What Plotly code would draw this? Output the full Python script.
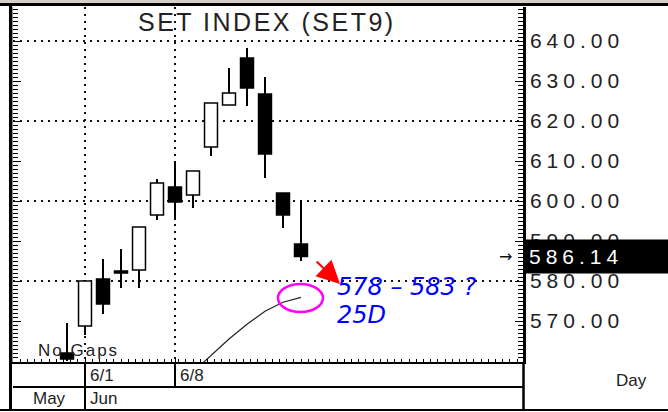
import plotly.graph_objects as go

# ---------------- data ----------------
DATES = ["5/29", "6/1", "6/2", "6/3", "6/4", "6/5", "6/8", "6/9", "6/10",
         "6/11", "6/12", "6/15", "6/16", "6/17"]
OPEN = [562.0, 568.75, 580.5, 582.5, 582.75, 596.5, 603.5, 601.5, 613.5,
        624.0, 635.75, 626.75, 602.0, 589.25]
HIGH = [569.5, 580.0, 585.5, 588.0, 593.5, 605.5, 610.0, 607.5, 624.5,
        633.25, 638.25, 631.0, 602.0, 600.25]
LOW = [560.0, 566.5, 571.75, 578.25, 578.25, 595.25, 595.25, 598.25, 611.25,
       624.0, 623.75, 605.75, 593.25, 585.0]
CLOSE = [560.5, 580.0, 574.25, 582.0, 593.5, 604.5, 599.75, 607.5, 624.5,
         627.0, 628.25, 611.75, 596.5, 586.14]
MA25 = [None, None, None, None, None, None, None, 557.25, 561.4, 565.5,
        569.2, 572.45, 574.7, 575.9]
TICK_VALS = [570, 580, 590, 600, 610, 620, 630, 640]
DATE_MARKS = ["6/1", "6/8"]
MONTHS = ["May", "Jun"]

X = list(range(len(DATES)))
X_RANGE = [-3, 25.333]
Y_RANGE = [559.75, 648.5]

FONT = "Liberation Sans, Arial, sans-serif"
TXT = "#222222"


def spaced(t, ls):
    return '<span style="letter-spacing:%spx">%s</span>' % (ls, t)


def py(p):  # pixel row -> paper y
    return (362 - p) / 355.0


def px(p):  # pixel column -> paper x
    return (p - 13) / 510.0


fig = go.Figure()

# bodies
body_base = [min(o, c) for o, c in zip(OPEN, CLOSE)]
body_h = [abs(c - o) for o, c in zip(OPEN, CLOSE)]
body_col = ["white" if c > o else "black" for o, c in zip(OPEN, CLOSE)]
fig.add_trace(go.Bar(x=X, y=body_h, base=body_base, width=0.72,
                     marker=dict(color=body_col, line=dict(color="black", width=1.5)),
                     hoverinfo="skip", showlegend=False))

# wicks (split so they don't cross the bodies)
wx, wy = [], []
for i, o, h, l, c in zip(X, OPEN, HIGH, LOW, CLOSE):
    top, bot = max(o, c), min(o, c)
    if h > top:
        wx += [i, i, None]
        wy += [h, top, None]
    if l < bot:
        wx += [i, i, None]
        wy += [bot, l, None]
fig.add_trace(go.Scatter(x=wx, y=wy, mode="lines",
                         line=dict(color="black", width=2),
                         hoverinfo="skip", showlegend=False))

# 25-day average
fig.add_trace(go.Scatter(x=X, y=MA25, mode="lines",
                         line=dict(color="#222222", width=1.2),
                         hoverinfo="skip", showlegend=False))

# dummy traces for overlay axes
fig.add_trace(go.Scatter(x=[None], y=[None], yaxis="y2", showlegend=False, hoverinfo="skip"))
fig.add_trace(go.Scatter(x=[None], y=[None], yaxis="y3", showlegend=False, hoverinfo="skip"))

DOT = "2px,5px"

fig.update_layout(
    width=668, height=412, autosize=False,
    margin=dict(l=13, r=145, t=7, b=50, pad=0),
    paper_bgcolor="white", plot_bgcolor="white",
    barmode="overlay", showlegend=False,
    xaxis=dict(range=X_RANGE, tickmode="array", tickvals=[1, 6], showticklabels=False,
               showgrid=True, gridcolor="#111", griddash=DOT, gridwidth=1.5,
               zeroline=False, showline=True, linecolor="black", linewidth=2,
               ticks="inside", ticklen=3, tickcolor="black",
               minor=dict(tickmode="linear", tick0=-3, dtick=0.4, ticks="inside",
                          ticklen=3, tickcolor="black", showgrid=False),
               fixedrange=True),
    yaxis=dict(range=Y_RANGE, side="right", tickmode="array", tickvals=TICK_VALS,
               ticktext=[spaced("%.2f" % v, 5) for v in TICK_VALS],
               tickfont=dict(family=FONT, size=21, color=TXT),
               ticks="inside", ticklen=8, tickcolor="black", tickwidth=1,
               minor=dict(tickmode="linear", tick0=0, dtick=1, ticks="inside",
                          ticklen=5, tickcolor="black", showgrid=False),
               showgrid=False, zeroline=False, showline=True, linecolor="black",
               linewidth=2.5, ticklabelstandoff=0, fixedrange=True),
    yaxis2=dict(range=Y_RANGE, overlaying="y", side="left", tickmode="linear",
                tick0=0, dtick=10, showticklabels=False, ticks="inside", ticklen=8,
                tickcolor="black",
                minor=dict(tickmode="linear", tick0=0, dtick=1, ticks="inside",
                           ticklen=5, tickcolor="black", showgrid=False),
                showgrid=False, zeroline=False, showline=True, linecolor="#888",
                linewidth=1.5, fixedrange=True),
    yaxis3=dict(range=Y_RANGE, overlaying="y", side="left", tickmode="linear",
                tick0=0, dtick=20, showticklabels=False, ticks="",
                showgrid=True, gridcolor="#111", griddash=DOT, gridwidth=1.5,
                zeroline=False, showline=False, fixedrange=True),
)

shapes = [
    dict(type="rect", xref="paper", yref="paper", x0=px(0), x1=px(668),
         y0=py(3), y1=py(0), fillcolor="#d4d0c8", line=dict(width=0)),
    dict(type="line", xref="paper", yref="paper", x0=px(0), x1=px(668),
         y0=py(4.5), y1=py(4.5), line=dict(color="black", width=3)),
    dict(type="line", xref="paper", yref="paper", x0=px(10.5), x1=px(10.5),
         y0=py(410), y1=py(4), line=dict(color="black", width=3)),
    dict(type="line", xref="paper", yref="paper", x0=px(0), x1=px(668),
         y0=py(410), y1=py(410), line=dict(color="black", width=2)),
    dict(type="line", xref="paper", yref="paper", x0=0, x1=1,
         y0=py(387), y1=py(387), line=dict(color="black", width=2)),
    dict(type="line", xref="x", yref="paper", x0=1, x1=1,
         y0=py(410), y1=0, line=dict(color="black", width=2)),
    dict(type="line", xref="x", yref="paper", x0=6, x1=6,
         y0=py(387), y1=0, line=dict(color="black", width=2)),
    dict(type="line", xref="paper", yref="paper", x0=px(523.5), x1=px(523.5),
         y0=py(410), y1=0, line=dict(color="black", width=2.5)),
    dict(type="circle", xref="x", yref="y", x0=11.72, x1=14.22, y0=572.25, y1=579.25,
         line=dict(color="#ff00ff", width=2.5)),
]
fig.update_layout(shapes=shapes)

ann = [
    dict(text=spaced("SET INDEX (SET9)", 2.5), xref="paper", yref="paper",
         x=px(267), y=py(22), xanchor="center", yanchor="middle", showarrow=False,
         font=dict(family=FONT, size=25, color=TXT)),
    dict(text=spaced("No Gaps", 2), xref="paper", yref="paper",
         x=px(36), y=py(350), xanchor="left", yanchor="middle", showarrow=False,
         font=dict(family=FONT, size=17, color=TXT)),
    dict(text=DATE_MARKS[0], xref="x", yref="paper", x=1, xshift=3, y=py(375),
         xanchor="left", yanchor="middle", showarrow=False,
         font=dict(family=FONT, size=17, color=TXT)),
    dict(text=DATE_MARKS[1], xref="x", yref="paper", x=6, xshift=3, y=py(375),
         xanchor="left", yanchor="middle", showarrow=False,
         font=dict(family=FONT, size=17, color=TXT)),
    dict(text=MONTHS[0], xref="x", yref="paper", x=-1, y=py(398),
         xanchor="center", yanchor="middle", showarrow=False,
         font=dict(family=FONT, size=17, color=TXT)),
    dict(text=MONTHS[1], xref="x", yref="paper", x=1, xshift=3, y=py(398),
         xanchor="left", yanchor="middle", showarrow=False,
         font=dict(family=FONT, size=17, color=TXT)),
    dict(text="Day", xref="paper", yref="paper", x=px(631), y=py(380),
         xanchor="center", yanchor="middle", showarrow=False,
         font=dict(family=FONT, size=17, color=TXT)),
    dict(text=spaced("%.2f" % CLOSE[-1], 5), xref="paper", yref="y", x=px(523),
         y=CLOSE[-1], xanchor="left", yanchor="middle", showarrow=False,
         bgcolor="black", width=137, height=23, borderpad=5, align="left",
         font=dict(family=FONT, size=21, color="white")),
    dict(text="→", xref="paper", yref="y", x=px(514), y=CLOSE[-1],
         xanchor="right", yanchor="middle", showarrow=False,
         font=dict(family="DejaVu Sans", size=16, color="#111")),
    dict(text="", xref="x", yref="y", x=15.17, y=579.25, ax=-25, ay=-24,
         showarrow=True, arrowhead=2, arrowsize=2.3, arrowwidth=2,
         arrowcolor="#ff0000", standoff=0),
    dict(text="<i>578 – 583 ?</i>", xref="x", yref="y", x=14.89, y=578.5,
         xanchor="left", yanchor="middle", showarrow=False,
         font=dict(family="DejaVu Sans", size=24, color="#0000ff")),
    dict(text="<i>25D</i>", xref="x", yref="y", x=14.89, y=571.4,
         xanchor="left", yanchor="middle", showarrow=False,
         font=dict(family="DejaVu Sans", size=24, color="#0000ff")),
]
fig.update_layout(annotations=ann)

fig.write_html("out.html", config={"displayModeBar": False},
               post_script="document.body.style.margin='0';"
                           "document.body.style.overflow='hidden';")
